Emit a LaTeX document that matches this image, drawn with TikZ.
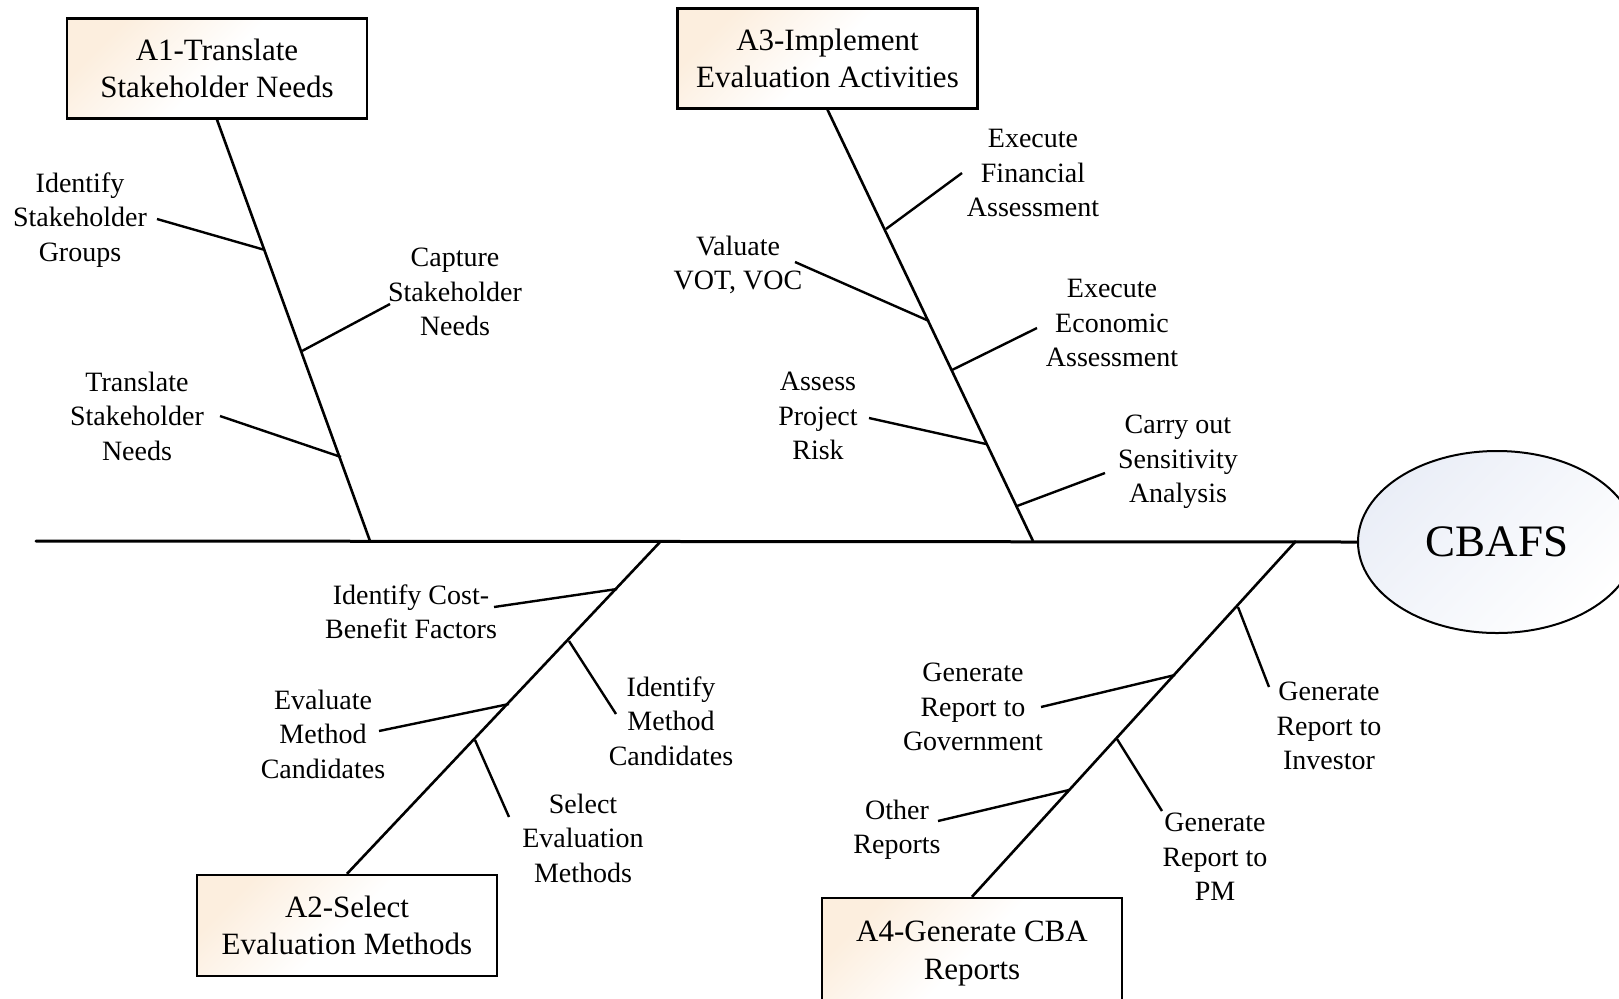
\documentclass[tikz,border=0pt]{standalone}
\usepackage{fontspec}
\setmainfont{Liberation Serif}
\usetikzlibrary{shapes.geometric}
\definecolor{boxpeach}{RGB}{252,238,222}
\definecolor{ovalblue}{RGB}{234,238,247}
\tikzset{
  stage/.style={draw=black, line width=1.2pt, minimum width=150pt,
    minimum height=50pt, inner sep=0pt, align=center,
    font=\fontsize{15.5}{18.75}\selectfont,
    top color=boxpeach, bottom color=white, middle color=white,
    shading angle=45},
  cause/.style={align=center, inner sep=0pt, font=\fontsize{14}{17.25}\selectfont},
  bone/.style={line width=1.3pt},
  twig/.style={line width=1.2pt},
}
\begin{document}
\begin{tikzpicture}[x=0.5pt,y=-0.5pt]
\fill[white] (0,0) rectangle (1619,998);
\clip (0,0) rectangle (1619,998);

% effect and main spine
\node[ellipse, draw, line width=1pt, minimum width=139pt, minimum height=91pt,
      inner sep=0pt, top color=ovalblue, bottom color=white, shading angle=45,
      font=\fontsize{22.5}{27}\selectfont] (goal) at (1497,542) {CBAFS};
\coordinate (tail) at (36,541);
\draw[bone, line width=1.5pt, line cap=round] (tail) -- (goal.west);

% category boxes
\node[stage] (a1) at (217,68.5) {A1-Translate\\Stakeholder Needs};
\node[stage] (a3) at (827.5,58.5) {A3-Implement\\Evaluation Activities};
\node[stage, minimum height=50.5pt] (a2) at (347,925.5) {A2-Select\\Evaluation Methods};
\node[stage, minimum height=55.5pt] (a4) at (972,953.5) {A4-Generate CBA\\Reports};

% where the category bones meet the spine
\coordinate (j1) at (370,541);
\coordinate (j3) at (1033,541);
\coordinate (j2) at (661,541);
\coordinate (j4) at (1296,541);
\draw[bone] (a1.south) -- (j1);
\draw[bone] (a3.south) -- (j3);
\draw[bone] (a2.north) -- (j2);
\draw[bone] (a4.north) -- (j4);

% A1 causes
\node[cause] (c11) at (80,220) {Identify\\Stakeholder\\Groups};
\node[cause] (c12) at (455,292) {Capture\\Stakeholder\\Needs};
\node[cause] (c13) at (137,416) {Translate\\Stakeholder\\Needs};
\coordinate (e11) at (157,219); \coordinate (k11) at (265,250);
\coordinate (e12) at (390,304); \coordinate (k12) at (302,351);
\coordinate (e13) at (220,416); \coordinate (k13) at (341,457);
\draw[twig] (e11) -- (k11);
\draw[twig] (e12) -- (k12);
\draw[twig] (e13) -- (k13);

% A3 causes
\node[cause] (c31) at (1033,173) {Execute\\Financial\\Assessment};
\node[cause] (c32) at (738,265) {Valuate\\VOT, VOC};
\node[cause] (c33) at (1112,323) {Execute\\Economic\\Assessment};
\node[cause] (c34) at (818,416) {Assess\\Project\\Risk};
\node[cause] (c35) at (1178,462) {Carry out\\Sensitivity\\Analysis};
\coordinate (e31) at (962,173);  \coordinate (k31) at (886,229);
\coordinate (e32) at (795,262);  \coordinate (k32) at (929,321);
\coordinate (e33) at (1037,328); \coordinate (k33) at (952,370);
\coordinate (e34) at (869,418);  \coordinate (k34) at (986,444);
\coordinate (e35) at (1105,473); \coordinate (k35) at (1017,506);
\draw[twig] (e31) -- (k31);
\draw[twig] (e32) -- (k32);
\draw[twig] (e33) -- (k33);
\draw[twig] (e34) -- (k34);
\draw[twig] (e35) -- (k35);

% A2 causes
\node[cause] (c21) at (411,612) {Identify Cost-\\Benefit Factors};
\node[cause] (c22) at (671,721) {Identify\\Method\\Candidates};
\node[cause] (c23) at (323,734) {Evaluate\\Method\\Candidates};
\node[cause] (c24) at (583,838) {Select\\Evaluation\\Methods};
\coordinate (e21) at (494,607); \coordinate (k21) at (617,589);
\coordinate (e22) at (616,714); \coordinate (k22) at (569,641);
\coordinate (e23) at (379,731); \coordinate (k23) at (509,704);
\coordinate (e24) at (509,817); \coordinate (k24) at (475,740);
\draw[twig] (e21) -- (k21);
\draw[twig] (e22) -- (k22);
\draw[twig] (e23) -- (k23);
\draw[twig] (e24) -- (k24);

% A4 causes
\node[cause] (c41) at (1329,726) {Generate\\Report to\\Investor};
\node[cause] (c42) at (973,707) {Generate\\Report to\\Government};
\node[cause] (c43) at (1215,857) {Generate\\Report to\\PM};
\node[cause] (c44) at (897,830) {Other\\Reports};
\coordinate (e41) at (1269,687); \coordinate (k41) at (1238,607);
\coordinate (e42) at (1041,707); \coordinate (k42) at (1175,675);
\coordinate (e43) at (1162,811); \coordinate (k43) at (1117,739);
\coordinate (e44) at (938,821);  \coordinate (k44) at (1069,790);
\draw[twig] (e41) -- (k41);
\draw[twig] (e42) -- (k42);
\draw[twig] (e43) -- (k43);
\draw[twig] (e44) -- (k44);
\end{tikzpicture}
\end{document}
